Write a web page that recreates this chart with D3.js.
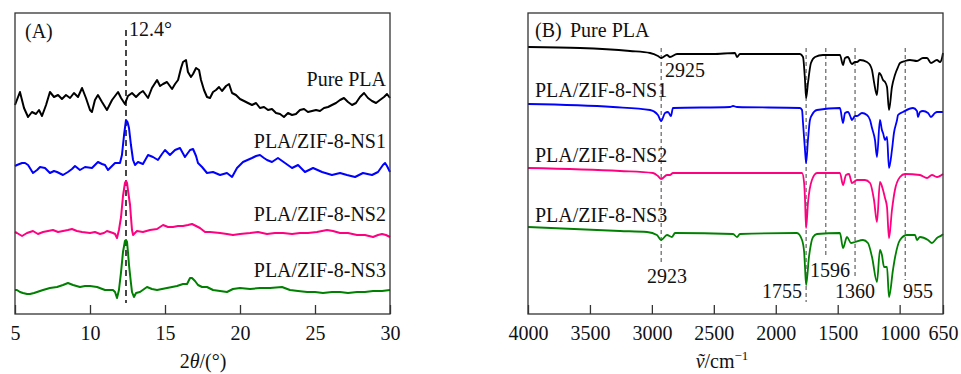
<!DOCTYPE html>
<html>
<head>
<meta charset="utf-8">
<script src="https://cdn.jsdelivr.net/npm/d3@7"></script>
<style>
  body { margin: 0; background: #fff; }
  text { font-family: "Liberation Serif", "Times New Roman", serif; fill: #111; }
</style>
</head>
<body>
<div class="chart"></div>
<script>
// ---- (A) XRD patterns: [2theta (deg), intensity (a.u., offset included)]
const xrdPurePLA = [[5.00,209],[5.33,222],[5.60,206],[5.87,197],[6.13,202],[6.40,200],[6.60,204],[6.80,198],[7.07,209],[7.33,222],[7.60,217],[7.87,219],[8.13,215],[8.40,219],[8.67,216],[8.93,221],[9.20,217],[9.47,226],[9.73,216],[10.00,204],[10.13,202],[10.33,214],[10.53,219],[10.80,212],[11.13,204],[11.47,214],[11.87,222],[12.07,216],[12.33,210],[12.53,218],[12.80,221],[13.07,217],[13.33,221],[13.53,223],[13.87,216],[14.13,226],[14.47,234],[14.67,228],[14.87,230],[15.13,232],[15.47,225],[15.67,230],[15.87,234],[16.07,246],[16.20,252],[16.40,254],[16.53,242],[16.73,237],[16.87,240],[17.07,246],[17.27,244],[17.40,234],[17.60,224],[17.80,217],[18.00,216],[18.20,222],[18.40,224],[18.60,227],[18.80,223],[19.07,228],[19.27,230],[19.47,221],[19.73,219],[20.00,215],[20.27,213],[20.53,211],[20.80,209],[21.07,211],[21.33,206],[21.60,207],[21.87,204],[22.13,205],[22.40,201],[22.67,200],[22.93,197],[23.20,201],[23.47,199],[23.73,200],[24.00,204],[24.27,205],[24.53,202],[24.80,203],[25.07,204],[25.33,203],[25.60,206],[25.87,207],[26.13,209],[26.40,211],[26.67,214],[26.93,216],[27.20,212],[27.47,209],[27.73,211],[28.00,217],[28.27,221],[28.53,216],[28.80,213],[29.07,211],[29.33,214],[29.60,217],[29.80,220],[30.00,216]];
const xrdNS1 = [[5.00,148],[5.13,149],[5.47,151],[5.67,151],[5.87,149],[6.20,141],[6.47,144],[6.67,147],[7.00,146],[7.33,141],[7.60,143],[7.80,142],[8.20,139],[8.53,142],[8.80,145],[9.00,148],[9.33,144],[9.67,147],[10.13,146],[10.53,152],[10.80,150],[11.00,149],[11.20,144],[11.47,148],[11.67,151],[12.00,151],[12.13,159],[12.27,179],[12.40,194],[12.50,192],[12.60,186],[12.73,169],[12.87,154],[13.00,149],[13.20,152],[13.53,150],[13.87,159],[14.20,157],[14.53,154],[14.80,160],[15.00,164],[15.33,159],[15.67,164],[16.00,166],[16.33,157],[16.67,164],[16.87,165],[17.07,158],[17.20,151],[17.47,147],[17.80,141],[18.20,142],[18.67,139],[19.13,141],[19.47,137],[19.80,146],[20.20,152],[20.80,156],[21.07,158],[21.33,159],[21.60,156],[21.80,154],[22.13,152],[22.53,156],[23.00,151],[23.47,146],[23.87,149],[24.33,142],[24.87,146],[25.47,142],[26.13,139],[26.67,141],[27.13,139],[27.67,137],[28.20,141],[28.80,139],[29.20,142],[29.53,149],[29.67,151],[29.80,148],[30.00,142]];
const xrdNS2 = [[5.00,82],[5.13,81],[5.47,78],[5.80,81],[6.20,83],[6.53,80],[6.87,82],[7.20,83],[7.53,84],[7.87,82],[8.20,83],[8.53,84],[8.80,85],[9.13,83],[9.47,82],[10.00,81],[10.33,82],[10.67,80],[10.93,81],[11.13,83],[11.53,81],[11.67,80],[11.80,76],[11.93,84],[12.07,97],[12.20,118],[12.33,131],[12.40,133],[12.47,131],[12.53,124],[12.67,109],[12.73,97],[12.80,84],[12.87,79],[13.00,81],[13.13,83],[13.53,82],[14.00,84],[14.47,85],[14.87,89],[15.20,87],[15.53,87],[15.87,88],[16.20,88],[16.53,89],[16.80,90],[17.07,88],[17.33,86],[17.67,82],[18.00,82],[18.67,81],[19.13,80],[19.53,79],[20.00,80],[20.67,81],[21.20,82],[21.80,80],[22.33,81],[22.87,81],[23.47,80],[24.00,81],[24.53,81],[25.13,82],[25.80,84],[26.20,83],[26.67,81],[27.20,81],[27.80,79],[28.33,79],[28.87,77],[29.20,79],[29.47,80],[29.73,79],[30.00,77]];
const xrdNS3 = [[5.00,24],[5.13,24],[5.33,22],[5.53,21],[5.80,20],[6.00,20],[6.27,21],[6.47,22],[6.87,24],[7.33,26],[7.80,27],[8.20,29],[8.53,31],[8.87,29],[9.33,27],[9.67,28],[10.00,28],[10.47,27],[11.00,24],[11.33,24],[11.53,24],[11.67,22],[11.80,16],[11.93,24],[12.07,42],[12.20,62],[12.33,73],[12.40,74],[12.47,72],[12.53,62],[12.60,49],[12.73,31],[12.80,22],[12.93,17],[13.07,21],[13.33,22],[13.80,27],[14.13,25],[14.47,24],[14.80,25],[15.13,26],[15.47,27],[15.80,28],[16.00,29],[16.20,30],[16.47,30],[16.67,36],[16.80,36],[17.00,33],[17.20,29],[17.47,27],[17.80,27],[18.20,24],[18.67,23],[19.13,22],[19.53,25],[20.00,26],[20.67,25],[21.33,26],[22.00,26],[22.80,27],[23.33,24],[23.87,23],[24.47,22],[25.00,22],[25.53,21],[26.13,22],[26.67,22],[27.20,21],[27.80,22],[28.33,22],[28.87,23],[29.47,23],[30.00,24]];

// ---- (B) FTIR spectra: [wavenumber (cm-1), transmittance (a.u., offset included)]
const ftirPurePLA = [[4000,267],[3580,266],[3177,263],[3015,261],[2951,258],[2925,256],[2878,259],[2854,257],[2797,260],[2507,260],[2329,261],[2313,257],[2289,260],[1804,260],[1780,257],[1764,234],[1755,216],[1740,231],[1716,251],[1683,257],[1619,259],[1482,259],[1457,249],[1441,256],[1417,257],[1393,251],[1385,250],[1360,252],[1344,252],[1320,254],[1264,252],[1239,249],[1223,244],[1207,232],[1183,219],[1167,241],[1151,239],[1134,234],[1118,232],[1102,227],[1086,204],[1062,227],[1038,239],[1013,247],[997,251],[957,253],[917,254],[860,253],[812,256],[779,256],[747,251],[699,254],[674,252],[658,256],[650,261]];
const ftirNS1 = [[4000,210],[3314,207],[3015,204],[2951,199],[2925,193],[2894,201],[2870,202],[2846,198],[2830,206],[2369,207],[2345,208],[2313,207],[1804,206],[1788,204],[1780,191],[1764,164],[1755,151],[1740,174],[1724,194],[1708,199],[1667,204],[1482,206],[1457,191],[1441,201],[1417,202],[1393,196],[1385,194],[1360,198],[1344,198],[1304,201],[1264,199],[1239,194],[1223,186],[1199,174],[1183,157],[1159,194],[1143,184],[1134,181],[1118,174],[1102,177],[1086,146],[1062,164],[1046,181],[1021,194],[1013,199],[973,202],[892,206],[860,203],[852,197],[836,202],[812,203],[771,201],[747,197],[715,201],[699,202],[650,202]];
const ftirNS2 = [[4000,146],[3257,143],[2991,141],[2951,138],[2925,135],[2878,139],[2854,139],[2830,141],[2345,141],[1829,141],[1788,141],[1771,131],[1764,115],[1755,86],[1740,111],[1708,134],[1667,141],[1482,141],[1457,129],[1433,139],[1409,140],[1385,131],[1344,134],[1280,134],[1239,131],[1207,114],[1183,92],[1159,132],[1134,124],[1118,116],[1102,107],[1086,76],[1062,104],[1038,124],[997,137],[957,140],[836,139],[779,136],[739,139],[699,137],[650,140]];
const ftirNS3 = [[4000,87],[3257,83],[3039,82],[2959,79],[2925,74],[2878,79],[2838,77],[2813,81],[2345,80],[2313,77],[2289,80],[1829,81],[1788,74],[1771,62],[1764,47],[1755,29],[1732,57],[1699,77],[1667,80],[1482,81],[1457,66],[1425,77],[1393,71],[1360,72],[1296,74],[1256,71],[1223,57],[1183,32],[1159,64],[1143,59],[1126,47],[1102,47],[1086,17],[1054,44],[1038,56],[997,74],[941,79],[876,79],[860,74],[836,77],[771,74],[739,71],[699,76],[658,79],[650,80]];

const seriesNames = ["Pure PLA", "PLA/ZIF-8-NS1", "PLA/ZIF-8-NS2", "PLA/ZIF-8-NS3"];
const seriesColors = ["#000000", "#0000ff", "#ff0080", "#008000"];

const xrdTicks = [5, 10, 15, 20, 25, 30];
const ftirTicks = [4000, 3500, 3000, 2500, 2000, 1500, 1000, 650];
const xrdMarker = 12.4;
const ftirMarkers = [2925, 1755, 1596, 1360, 955];

const svg = d3.select(".chart").append("svg")
    .attr("width", 961).attr("height", 374)
    .style("background-color", "white");

const plotTop = 13, plotBottom = 314;
const yScale = d3.scaleLinear().domain([0, 301]).range([plotBottom, plotTop]);

// ---------- panel A
const xA = d3.scaleLinear().domain([5, 30]).range([15, 390]);
const gA = svg.append("g");

gA.append("line")
    .attr("x1", xA(xrdMarker)).attr("x2", xA(xrdMarker))
    .attr("y1", 30).attr("y2", 303)
    .attr("stroke", "#333").attr("stroke-width", 1.8)
    .attr("stroke-dasharray", "6,4");

const lineA = d3.line().x(d => xA(d[0])).y(d => yScale(d[1]));
[xrdPurePLA, xrdNS1, xrdNS2, xrdNS3].forEach((s, i) => {
    gA.append("path").datum(s)
        .attr("d", lineA)
        .attr("fill", "none")
        .attr("stroke", seriesColors[i])
        .attr("stroke-width", 2)
        .attr("stroke-linejoin", "round");
});

gA.append("rect").attr("x", 15).attr("y", plotTop).attr("width", 375).attr("height", plotBottom - plotTop)
    .attr("fill", "none").attr("stroke", "#333").attr("stroke-width", 1.3);

const axisA = gA.append("g").attr("transform", `translate(0,${plotBottom})`)
    .call(d3.axisBottom(xA).tickValues(xrdTicks).tickFormat(d3.format("d"))
        .tickSizeInner(-9).tickSizeOuter(0).tickPadding(12));
axisA.select(".domain").remove();
axisA.selectAll("line").attr("stroke", "#333").attr("stroke-width", 1.3);
axisA.selectAll("text").attr("font-size", 20).attr("font-family", null).attr("fill", "#111");

// labels for A
const labelsA = [86, 148, 221, 277];
gA.selectAll(".lab").data(seriesNames).join("text")
    .attr("x", 386).attr("y", (d, i) => labelsA[i])
    .attr("text-anchor", "end").attr("font-size", 20).text(d => d);
gA.append("text").attr("x", 25).attr("y", 38).attr("font-size", 20).text("(A)");
gA.append("text").attr("x", 129).attr("y", 36).attr("font-size", 20).text(xrdMarker + "°");

const titleA = gA.append("text").attr("x", 203).attr("y", 368)
    .attr("text-anchor", "middle").attr("font-size", 20);
titleA.append("tspan").text("2");
titleA.append("tspan").attr("font-style", "italic").text("θ");
titleA.append("tspan").text("/(°)");

// ---------- panel B
const xB = d3.scaleLinear().domain([4000, 650]).range([528, 943]);
const gB = svg.append("g");

const markerEnds = [262, 302, 258, 277, 280];
gB.selectAll(".mk").data(ftirMarkers).join("line")
    .attr("x1", d => xB(d)).attr("x2", d => xB(d))
    .attr("y1", 48).attr("y2", (d, i) => markerEnds[i])
    .attr("stroke", "#555").attr("stroke-width", 1.1)
    .attr("stroke-dasharray", "4,3");

const lineB = d3.line().x(d => xB(d[0])).y(d => yScale(d[1])).curve(d3.curveMonotoneX);
[ftirPurePLA, ftirNS1, ftirNS2, ftirNS3].forEach((s, i) => {
    gB.append("path").datum(s)
        .attr("d", lineB)
        .attr("fill", "none")
        .attr("stroke", seriesColors[i])
        .attr("stroke-width", 1.8)
        .attr("stroke-linejoin", "round");
});

gB.append("rect").attr("x", 528).attr("y", plotTop).attr("width", 415).attr("height", plotBottom - plotTop)
    .attr("fill", "none").attr("stroke", "#333").attr("stroke-width", 1.3);

const axisB = gB.append("g").attr("transform", `translate(0,${plotBottom})`)
    .call(d3.axisBottom(xB).tickValues(ftirTicks).tickFormat(d3.format("d"))
        .tickSizeInner(-9).tickSizeOuter(0).tickPadding(12));
axisB.select(".domain").remove();
axisB.selectAll("line").attr("stroke", "#333").attr("stroke-width", 1.3);
axisB.selectAll("text").attr("font-size", 20).attr("font-family", null).attr("fill", "#111");

const labelsB = [[570, 37], [535, 97], [535, 162], [535, 222]];
gB.selectAll(".lab").data(seriesNames).join("text")
    .attr("x", (d, i) => labelsB[i][0]).attr("y", (d, i) => labelsB[i][1])
    .attr("font-size", 20).text(d => d);
gB.append("text").attr("x", 535).attr("y", 37).attr("font-size", 20).text("(B)");

// wavenumber annotations
const peakLabels = [["2925", 665, 77, "start"], ["2923", 667, 283, "middle"], ["1755", 802, 298, "end"],
    ["1596", 810, 277, "start"], ["1360", 835, 298, "start"], ["955", 903, 298, "start"]];
gB.selectAll(".pk").data(peakLabels).join("text")
    .attr("x", d => d[1]).attr("y", d => d[2]).attr("text-anchor", d => d[3])
    .attr("font-size", 20).text(d => d[0]);

const titleB = gB.append("text").attr("x", 722).attr("y", 368)
    .attr("text-anchor", "middle").attr("font-size", 20);
titleB.append("tspan").attr("font-style", "italic").text("ṽ");
titleB.append("tspan").text("/cm");
titleB.append("tspan").attr("font-size", 13).attr("dy", -8).text("−1");
</script>
</body>
</html>
